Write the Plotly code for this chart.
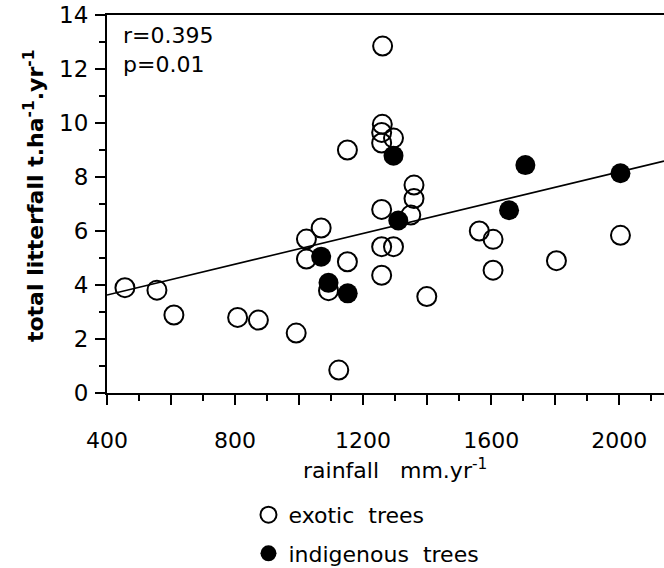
import plotly.graph_objects as go

# ---- data ----
exotic_rain = [456, 556, 609, 808, 873, 991, 1023, 1023, 1069, 1092, 1124, 1151,
               1151, 1258, 1258, 1258, 1261, 1260, 1258, 1258, 1295, 1295, 1349,
               1359, 1359, 1399, 1563, 1606, 1606, 1804, 2004]
exotic_litter = [3.90, 3.81, 2.89, 2.80, 2.70, 2.22, 5.70, 4.96, 6.11, 3.79, 0.85, 9.00,
                 4.86, 6.80, 5.42, 4.36, 12.85, 9.95, 9.65, 9.26, 9.44, 5.42, 6.59,
                 7.20, 7.70, 3.57, 6.00, 5.69, 4.55, 4.90, 5.84]
indig_rain = [1069, 1092, 1152, 1295, 1310, 1656, 1707, 2004]
indig_litter = [5.05, 4.08, 3.69, 8.79, 6.39, 6.77, 8.44, 8.14]

fit_intercept = 2.49
fit_slope = 0.00285
x_range = [400, 2140]
y_range = [0, 14]

x_tick_vals = [400, 600, 800, 1000, 1200, 1400, 1600, 1800, 2000]
x_tick_text = ["400", "", "800", "", "1200", "", "1600", "", "2000"]
y_tick_vals = [0, 2, 4, 6, 8, 10, 12, 14]
y_tick_text = ["0", "2", "4", "6", "8", "10", "12", "14"]

stat_lines = ["r=0.395", "p=0.01"]
legend_names = ["exotic  trees", "indigenous  trees"]

FONT = "DejaVu Sans"

fit_x = [x_range[0], x_range[1]]
fit_y = [fit_intercept + fit_slope * v for v in fit_x]

fig = go.Figure()
fig.add_trace(go.Scatter(x=fit_x, y=fit_y, mode="lines",
                         line=dict(color="black", width=1.6),
                         showlegend=False, hoverinfo="skip"))
fig.add_trace(go.Scatter(x=exotic_rain, y=exotic_litter, mode="markers",
                         name=legend_names[0], legendgroup="a",
                         marker=dict(symbol="circle-open", size=19, color="black",
                                     line=dict(width=2, color="black"))))
fig.add_trace(go.Scatter(x=indig_rain, y=indig_litter, mode="markers",
                         name=legend_names[1], legendgroup="b",
                         marker=dict(symbol="circle", size=20, color="black",
                                     line=dict(width=0))))

fig.update_layout(
    width=664, height=568,
    margin=dict(l=107, r=0, t=15, b=175, autoexpand=False),
    paper_bgcolor="white", plot_bgcolor="white",
    font=dict(family=FONT, size=20, color="black"),
    showlegend=True,
    legend=dict(x=0.254, y=-0.267, xanchor="left", yanchor="top",
                traceorder="grouped", tracegroupgap=7,
                font=dict(family=FONT, size=22, color="black"),
                bgcolor="rgba(0,0,0,0)"),
    xaxis=dict(range=x_range, showgrid=False, zeroline=False, automargin=False,
               showline=True, linecolor="black", linewidth=2, mirror=True,
               ticks="outside", ticklen=10, tickwidth=1.6, tickcolor="black",
               tickmode="array", tickvals=x_tick_vals, ticktext=x_tick_text,
               ticklabelstandoff=17,
               tickfont=dict(family=FONT, size=22, color="black"),
               minor=dict(dtick=100, ticks="outside", ticklen=6, tickwidth=1.6,
                          tickcolor="black", showgrid=False)),
    yaxis=dict(range=y_range, showgrid=False, zeroline=False, automargin=False,
               showline=True, linecolor="black", linewidth=2,
               ticks="outside", ticklen=10, tickwidth=1.6, tickcolor="black",
               tickmode="array", tickvals=y_tick_vals, ticktext=y_tick_text,
               ticklabelstandoff=2,
               tickfont=dict(family=FONT, size=23, color="black"),
               minor=dict(dtick=1, ticks="outside", ticklen=6, tickwidth=1.6,
                          tickcolor="black", showgrid=False)),
)

fig.add_annotation(text="<br>".join(stat_lines), xref="paper", yref="paper",
                   x=0.026, y=0.985, xanchor="left", yanchor="top", align="left",
                   showarrow=False, font=dict(family=FONT, size=22, color="black"))

fig.add_annotation(text="total litterfall t.ha<sup>-1</sup>.yr<sup>-1</sup>",
                   xref="paper", yref="paper", x=-0.13, y=0.52,
                   xanchor="center", yanchor="middle", textangle=-90,
                   showarrow=False,
                   font=dict(family=FONT, size=22, color="black", weight="bold"))

fig.add_annotation(text="rainfall   mm.yr<sup>-1</sup>",
                   xref="x", yref="paper", x=1300, y=-0.2,
                   xanchor="center", yanchor="middle",
                   showarrow=False, font=dict(family=FONT, size=22, color="black"))

fig.write_html("out.html", config={"displayModeBar": False},
               post_script="document.body.style.margin='0';")
